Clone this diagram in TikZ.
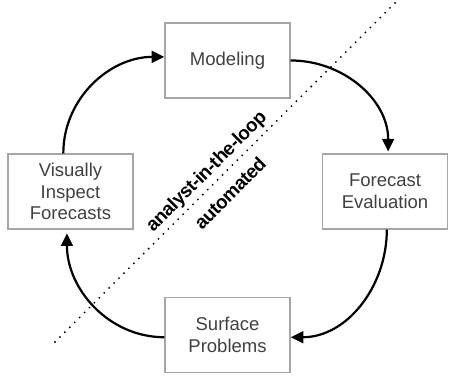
\documentclass[tikz,border=0pt]{standalone}
\usepackage{fontspec}
\setmainfont{Liberation Sans}
\newfontfamily\tightbold[LetterSpace=-2.5]{Liberation Sans Bold}
\usepackage{xcolor}
\usepackage{tikz}
\usetikzlibrary{arrows.meta}

\begin{document}
\begin{tikzpicture}[
    box/.style={draw=black!35, line width=0.8pt, minimum width=2.78cm, minimum height=1.67cm,
        align=center, text=black!75, font=\fontsize{11.7}{13.7}\selectfont},
    flow/.style={-{Triangle[length=8pt,width=7.5pt]}, line width=1.4pt},
    side/.style={rotate=45, font=\tightbold\fontsize{12}{13}\selectfont}
]
    \useasboundingbox (0,0) rectangle (10,8.4);

    % the four steps of the loop
    \node[box] (mod)  at (5.056,7.056) {Modeling};
    \node[box] (eval) at (8.556,4.144) {Forecast\\Evaluation};
    \node[box] (surf) at (5.056,0.956) {Surface\\Problems};
    \node[box] (vis)  at (1.567,4.144) {Visually\\Inspect\\Forecasts};

    \draw[flow] ([xshift=-0.16cm]vis.north) to[out=90,in=180] ([yshift=0.08cm]mod.west);
    \draw[flow] (mod.east) to[out=0,in=90] ([xshift=0.07cm,yshift=0.04cm]eval.north);
    \draw[flow] ([xshift=0.04cm]eval.south) to[out=-90,in=0] ([yshift=-0.05cm]surf.east);
    \draw[flow] ([yshift=-0.05cm]surf.west) to[out=180,in=-90] ([xshift=-0.08cm,yshift=-0.08cm]vis.south);

    % split between analyst and automated part
    \coordinate (cutlo) at (1.222,0.8);
    \coordinate (cuthi) at (8.844,8.4);
    \draw[line width=1.3pt, line cap=round, dash pattern=on 0pt off 4.4pt] (cutlo) -- (cuthi);

    \node[side] (analyst) at (4.6,4.578) {analyst-in-the-loop};
    \node[side] (auto) at (5.111,4.111) {automated};
\end{tikzpicture}
\end{document}
